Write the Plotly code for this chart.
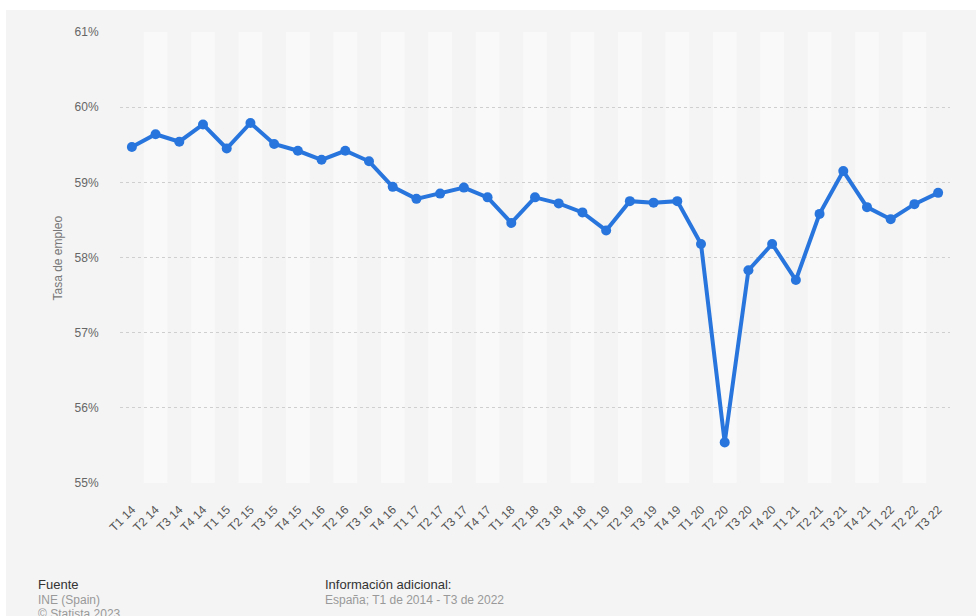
import plotly.graph_objects as go

# Quarterly employment rate, Spain (%)
quarters = [
    "T1 14", "T2 14", "T3 14", "T4 14",
    "T1 15", "T2 15", "T3 15", "T4 15",
    "T1 16", "T2 16", "T3 16", "T4 16",
    "T1 17", "T2 17", "T3 17", "T4 17",
    "T1 18", "T2 18", "T3 18", "T4 18",
    "T1 19", "T2 19", "T3 19", "T4 19",
    "T1 20", "T2 20", "T3 20", "T4 20",
    "T1 21", "T2 21", "T3 21", "T4 21",
    "T1 22", "T2 22", "T3 22",
]
employment_rate = [
    59.47, 59.64, 59.54, 59.77,
    59.45, 59.79, 59.51, 59.42,
    59.30, 59.42, 59.28, 58.94,
    58.78, 58.85, 58.93, 58.80,
    58.46, 58.80, 58.72, 58.60,
    58.36, 58.75, 58.73, 58.75,
    58.18, 55.54, 57.83, 58.18,
    57.70, 58.58, 59.15, 58.67,
    58.51, 58.71, 58.86,
]
y_ticks = [55, 56, 57, 58, 59, 60, 61]
y_tick_labels = [f"{v}%" for v in y_ticks]

FONT = "Liberation Sans, Arial, sans-serif"
BLUE = "#2876dd"

fig = go.Figure()
fig.add_trace(go.Scatter(
    x=list(range(len(quarters))),
    y=employment_rate,
    mode="lines+markers",
    line=dict(color=BLUE, width=4),
    marker=dict(color=BLUE, size=10),
    hoverinfo="skip",
))

shapes = [
    # grey panel behind the whole chart
    dict(type="rect", xref="paper", yref="paper",
         x0=-0.1373, x1=1.04, y0=-0.30, y1=1.0488,
         fillcolor="#f4f4f4", line=dict(width=0), layer="below"),
]
# alternating lighter column bands
for i in range(1, len(quarters), 2):
    shapes.append(dict(type="rect", xref="x", yref="paper",
                       x0=i - 0.5, x1=i + 0.5, y0=0, y1=1,
                       fillcolor="#f9f9f9", line=dict(width=0), layer="below"))

FX1 = -0.1012
FX2 = 0.2446
annotations = [
    dict(text="Tasa de empleo", xref="paper", yref="paper", x=-0.0747, y=0.5,
         textangle=-90, showarrow=False, xanchor="center", yanchor="middle",
         font=dict(family=FONT, size=12, color="#777")),
    dict(text="Fuente", xref="paper", yref="paper", x=FX1, y=-0.226,
         showarrow=False, xanchor="left", yanchor="middle",
         font=dict(family=FONT, size=13, color="#333")),
    dict(text="INE (Spain)", xref="paper", yref="paper", x=FX1, y=-0.2594,
         showarrow=False, xanchor="left", yanchor="middle",
         font=dict(family=FONT, size=12, color="#999")),
    dict(text="© Statista 2023", xref="paper", yref="paper", x=FX1, y=-0.2905,
         showarrow=False, xanchor="left", yanchor="middle",
         font=dict(family=FONT, size=12, color="#999")),
    dict(text="Información adicional:", xref="paper", yref="paper", x=FX2, y=-0.226,
         showarrow=False, xanchor="left", yanchor="middle",
         font=dict(family=FONT, size=13, color="#333")),
    dict(text="España; T1 de 2014 - T3 de 2022", xref="paper", yref="paper", x=FX2, y=-0.2594,
         showarrow=False, xanchor="left", yanchor="middle",
         font=dict(family=FONT, size=12, color="#999")),
]

fig.update_layout(
    width=976, height=616,
    margin=dict(l=120, r=26, t=32, b=133),
    paper_bgcolor="white",
    plot_bgcolor="rgba(0,0,0,0)",
    showlegend=False,
    shapes=shapes,
    annotations=annotations,
    xaxis=dict(
        range=[-0.5, len(quarters) - 0.5],
        tickmode="array",
        tickvals=list(range(len(quarters))),
        ticktext=quarters,
        tickangle=-45,
        ticks="outside", ticklen=14, tickcolor="rgba(0,0,0,0)",
        showgrid=False, zeroline=False, showline=False,
        tickfont=dict(family=FONT, size=12, color="#555"),
        fixedrange=True,
    ),
    yaxis=dict(
        range=[55, 61],
        tickmode="array",
        tickvals=y_ticks,
        ticktext=y_tick_labels,
        ticks="outside", ticklen=18, tickcolor="rgba(0,0,0,0)",
        showgrid=True, gridcolor="#cfcfcf", gridwidth=1, griddash="dot",
        zeroline=False, showline=False,
        tickfont=dict(family=FONT, size=12, color="#666"),
        fixedrange=True,
    ),
)

fig.write_html("out.html")
